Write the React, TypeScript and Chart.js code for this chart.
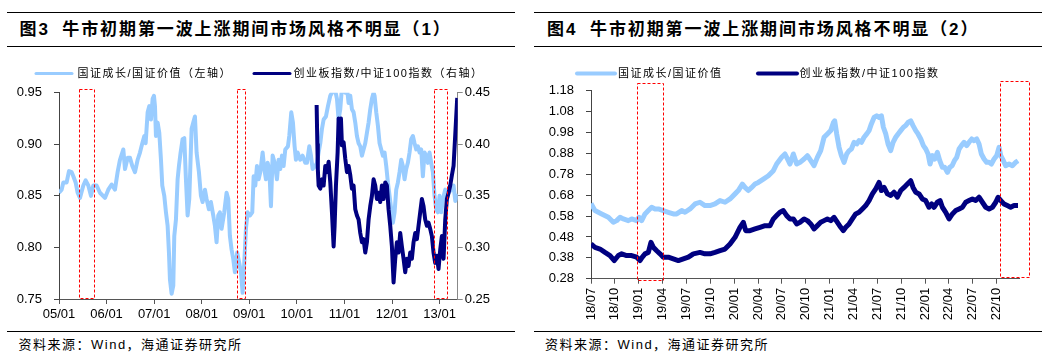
import React, { useEffect, useRef } from 'react';
import { Chart, registerables } from 'chart.js';

Chart.register(...registerables);

// ---------------- Figure 3 (left): x = years since 2005/01 ----------------
const fig3TickPos = [0, 1, 2, 3, 4, 5, 6, 7, 8];
const fig3TickLabels = ['05/01', '06/01', '07/01', '08/01', '09/01', '10/01', '11/01', '12/01', '13/01'];
const fig3LeftTicks = [0.75, 0.8, 0.85, 0.9, 0.95];
const fig3RightTicks = [0.25, 0.3, 0.35, 0.4, 0.45];

// 国证成长/国证价值 (left axis)
const fig3GrowthT = [
  0, 0.056, 0.091, 0.161, 0.21, 0.266, 0.301, 0.35, 0.392, 0.441, 0.511, 0.56, 0.616, 0.672, 0.721, 0.791, 0.861, 0.966,
  1.036, 1.106, 1.176, 1.232, 1.282, 1.352, 1.387, 1.443, 1.492, 1.541, 1.597, 1.653, 1.702, 1.751, 1.793, 1.821, 1.863,
  1.898, 1.933, 1.968, 1.996, 2.017, 2.038, 2.073, 2.108, 2.143, 2.171, 2.213, 2.248, 2.283, 2.311, 2.332, 2.367, 2.402,
  2.423, 2.458, 2.493, 2.521, 2.556, 2.598, 2.633, 2.668, 2.703, 2.738, 2.787, 2.822, 2.857, 2.892, 2.941, 2.983, 3.018,
  3.067, 3.102, 3.151, 3.193, 3.242, 3.277, 3.312, 3.347, 3.382, 3.417, 3.473, 3.522, 3.557, 3.592, 3.627, 3.662, 3.697,
  3.746, 3.788, 3.824, 3.859, 3.894, 3.929, 3.964, 4.013, 4.062,
  4.091, 4.126, 4.161, 4.196, 4.231, 4.28, 4.315, 4.35, 4.385, 4.42, 4.455, 4.49, 4.532, 4.581, 4.616, 4.651, 4.686, 4.721,
  4.756, 4.812, 4.84, 4.882, 4.917, 4.952, 4.98, 5.015, 5.071, 5.12, 5.176, 5.211, 5.261, 5.296, 5.331, 5.387, 5.422,
  5.457, 5.492, 5.527, 5.562, 5.611, 5.653, 5.702, 5.737, 5.793, 5.842, 5.877, 5.912, 5.947, 5.982, 6.017, 6.052, 6.087,
  6.122, 6.157, 6.192, 6.227, 6.262, 6.297, 6.332, 6.367, 6.402, 6.437, 6.472, 6.507, 6.542, 6.577, 6.612, 6.633, 6.668,
  6.703, 6.738, 6.773, 6.808, 6.843, 6.878, 6.913, 6.948, 6.983, 7.018, 7.053, 7.088, 7.123, 7.158, 7.193, 7.228, 7.263,
  7.298, 7.333, 7.368, 7.403, 7.438, 7.473, 7.508, 7.543, 7.578, 7.613, 7.648, 7.683, 7.718, 7.753, 7.788, 7.823, 7.858,
  7.893, 7.928, 7.963, 7.998, 8.034, 8.069, 8.118, 8.153, 8.188, 8.244, 8.293, 8.33, 8.37,
];
const fig3GrowthV = [
  0.853, 0.856, 0.863, 0.863, 0.874, 0.873, 0.869, 0.863, 0.853, 0.848, 0.86, 0.865, 0.86, 0.85, 0.86, 0.86, 0.853, 0.848,
  0.856, 0.861, 0.856, 0.873, 0.885, 0.895, 0.876, 0.887, 0.887, 0.879, 0.873, 0.885, 0.892, 0.901, 0.908, 0.901, 0.931,
  0.937, 0.924, 0.944, 0.947, 0.937, 0.908, 0.921, 0.911, 0.885, 0.86, 0.85, 0.834, 0.821, 0.795, 0.769, 0.755, 0.763,
  0.811, 0.827, 0.866, 0.879, 0.892, 0.905, 0.906, 0.866, 0.831, 0.847, 0.915, 0.921, 0.927, 0.892, 0.873, 0.85, 0.844,
  0.856, 0.847, 0.837, 0.844, 0.831, 0.821, 0.805, 0.831, 0.834, 0.818, 0.834, 0.853, 0.847, 0.811, 0.798, 0.789, 0.776,
  0.795, 0.785, 0.776, 0.756, 0.785, 0.818, 0.834, 0.831, 0.834,
  0.869, 0.86, 0.879, 0.866, 0.873, 0.892, 0.876, 0.866, 0.882, 0.876, 0.84, 0.889, 0.882, 0.866, 0.885, 0.876, 0.889, 0.879,
  0.895, 0.898, 0.908, 0.931, 0.921, 0.898, 0.885, 0.892, 0.885, 0.889, 0.882, 0.882, 0.898, 0.889, 0.876, 0.879, 0.882,
  0.892, 0.901, 0.915, 0.924, 0.927, 0.937, 0.947, 0.95, 0.955, 0.944, 0.924, 0.934, 0.955, 0.958, 0.95, 0.955, 0.94,
  0.947, 0.934, 0.931, 0.921, 0.908, 0.901, 0.898, 0.889, 0.895, 0.901, 0.911, 0.921, 0.934, 0.944, 0.95, 0.947, 0.931,
  0.918, 0.901, 0.895, 0.889, 0.892, 0.879, 0.863, 0.85, 0.837, 0.824, 0.834, 0.856, 0.863, 0.873, 0.885, 0.879, 0.866,
  0.876, 0.882, 0.892, 0.905, 0.908, 0.901, 0.895, 0.898, 0.892, 0.895, 0.869, 0.892, 0.889, 0.882, 0.892, 0.882, 0.873,
  0.85, 0.837, 0.834, 0.85, 0.834, 0.847, 0.856, 0.847, 0.853, 0.856, 0.86, 0.845, 0.852,
];

// 创业板指数/中证100指数 (right axis)
const fig3ChinextT = [
  5.415, 5.43, 5.44, 5.457, 5.492, 5.527, 5.562, 5.597, 5.632, 5.667, 5.702, 5.737, 5.772, 5.793, 5.821, 5.856, 5.877,
  5.898, 5.926, 5.947, 5.982, 6.017, 6.052, 6.087, 6.122, 6.157, 6.192, 6.227, 6.262, 6.297, 6.332, 6.367, 6.402, 6.437,
  6.472, 6.507, 6.542, 6.577, 6.612, 6.647, 6.682, 6.717, 6.752, 6.787, 6.822, 6.857, 6.892, 6.927, 6.962, 6.997, 7.032,
  7.067, 7.102, 7.137, 7.172, 7.207, 7.242, 7.277, 7.312, 7.347, 7.382, 7.417, 7.452, 7.487, 7.522, 7.557, 7.592, 7.627,
  7.662, 7.697, 7.732, 7.767, 7.802, 7.837, 7.872, 7.907, 7.942, 7.977, 8.013, 8.048, 8.083, 8.118, 8.153, 8.188, 8.223,
  8.258, 8.293, 8.334, 8.37,
];
const fig3ChinextV = [
  0.438, 0.4, 0.376, 0.36, 0.357, 0.366, 0.36, 0.379, 0.373, 0.383, 0.363, 0.334, 0.301, 0.321, 0.36, 0.392, 0.425,
  0.418, 0.425, 0.399, 0.402, 0.386, 0.373, 0.379, 0.37, 0.357, 0.36, 0.337, 0.331, 0.327, 0.314, 0.305, 0.308, 0.295,
  0.305, 0.327, 0.34, 0.35, 0.366, 0.36, 0.347, 0.353, 0.344, 0.36, 0.347, 0.363, 0.36, 0.337, 0.321, 0.301, 0.266,
  0.289, 0.305, 0.295, 0.314, 0.301, 0.289, 0.276, 0.289, 0.282, 0.295, 0.289, 0.305, 0.314, 0.308, 0.321, 0.334, 0.347,
  0.34, 0.327, 0.321, 0.324, 0.318, 0.311, 0.295, 0.285, 0.292, 0.279, 0.298, 0.311, 0.289, 0.327, 0.347, 0.353, 0.36,
  0.37, 0.379, 0.414, 0.445,
];

// highlighted periods (years since 2005/01), box spans the left axis range
const fig3BoxFrom = [0.4265, 3.733, 7.884];
const fig3BoxTo = [0.729, 3.908, 8.145];
const fig3BoxLow = [0.7508, 0.7508, 0.7508];
const fig3BoxHigh = [0.9536, 0.9536, 0.9536];

// ---------------- Figure 4 (right): x = months since 2018/07 ----------------
const fig4TickPos = [0, 3, 6, 9, 12, 15, 18, 21, 24, 27, 30, 33, 36, 39, 42, 45, 48, 51];
const fig4TickLabels = ['18/07', '18/10', '19/01', '19/04', '19/07', '19/10', '20/01', '20/04', '20/07', '20/10',
  '21/01', '21/04', '21/07', '21/10', '22/01', '22/04', '22/07', '22/10'];
const fig4YTicks = [0.28, 0.38, 0.48, 0.58, 0.68, 0.78, 0.88, 0.98, 1.08, 1.18];

const fig4GrowthM = [
  0, 0.5, 1.34, 2.18, 2.81, 3.23, 3.65, 4.07, 4.69, 5.11, 5.74, 6.04, 6.37, 6.79, 7.21, 7.63, 8.05, 8.47, 9.09, 9.72,
  10.35, 10.77, 11.4, 11.82, 12.45, 13.08, 13.7, 14.33, 14.96, 15.59, 16.22, 16.85, 17.48, 18.11, 18.52, 19.03, 19.36,
  19.78, 20.2, 20.62, 21.04, 21.67, 22.3, 22.93, 23.34, 23.97, 24.39, 24.81, 25.02, 25.44, 25.86, 26.28,
  26.79, 27.21, 27.63, 28.04, 28.46, 28.88, 29.3, 29.72, 30.14, 30.48, 30.64, 30.89, 31.19, 31.48, 31.82, 32.15, 32.45,
  32.74, 33.07, 33.41, 33.7, 34.0, 34.33, 34.67, 34.96, 35.25, 35.59, 35.92, 36.22, 36.51, 36.76, 37.06, 37.35, 37.68,
  37.98, 38.31, 38.61, 38.94, 39.28, 39.57, 39.86, 40.2, 40.49, 40.83, 41.12, 41.46, 41.79, 42.09, 42.38, 42.63, 42.92,
  43.22, 43.55, 43.85, 44.18, 44.47, 44.81, 45.1, 45.4, 45.69, 45.98, 46.28, 46.57, 46.9, 47.24, 47.53, 47.87, 48.16,
  48.5, 48.79, 49.08, 49.42, 49.75, 50.05, 50.34, 50.68, 51.01, 51.31, 51.52, 51.85, 52.14, 52.56, 52.98, 53.4, 53.69,
];
const fig4GrowthV = [
  0.64, 0.606, 0.59, 0.574, 0.55, 0.558, 0.574, 0.566, 0.558, 0.566, 0.558, 0.574, 0.558, 0.59, 0.606, 0.622, 0.614,
  0.614, 0.606, 0.598, 0.59, 0.59, 0.606, 0.598, 0.614, 0.638, 0.646, 0.63, 0.63, 0.638, 0.654, 0.646, 0.662, 0.686,
  0.702, 0.733, 0.717, 0.702, 0.717, 0.733, 0.741, 0.757, 0.773, 0.797, 0.829, 0.861, 0.877, 0.845, 0.829, 0.877,
  0.829, 0.837,
  0.853, 0.869, 0.845, 0.821, 0.861, 0.893, 0.957, 0.973, 0.989, 1.028, 1.036, 0.973, 0.909, 0.869, 0.837, 0.877, 0.893,
  0.901, 0.933, 0.925, 0.941, 0.933, 0.957, 0.973, 0.989, 1.021, 1.052, 1.06, 1.052, 1.06, 1.005, 0.973, 0.925, 0.893,
  0.933, 0.957, 0.973, 0.989, 1.005, 1.013, 1.028, 1.036, 1.013, 0.989, 0.973, 0.949, 0.917, 0.901, 0.877, 0.829, 0.869,
  0.853, 0.885, 0.845, 0.813, 0.813, 0.789, 0.813, 0.821, 0.845, 0.861, 0.901, 0.917, 0.933, 0.917, 0.933, 0.949, 0.941,
  0.949, 0.925, 0.877, 0.853, 0.837, 0.837, 0.829, 0.853, 0.869, 0.909, 0.869, 0.845, 0.821, 0.829, 0.821, 0.837, 0.845,
];

const fig4ChinextM = [
  0, 0.5, 1.13, 1.76, 2.39, 2.93, 3.44, 3.86, 4.48, 5.11, 5.74, 6.16, 6.45, 6.79, 7.21, 7.54, 7.84, 8.26, 8.68, 9.09,
  9.72, 10.35, 10.98, 11.61, 12.24, 12.87, 13.7, 14.33, 14.96, 15.59, 16.22, 16.85, 17.48, 18.11, 18.73, 19.15, 19.45,
  19.99, 20.62, 21.25, 21.88, 22.51, 22.93, 23.34, 23.76, 24.18, 24.6, 25.02, 25.44, 25.86, 26.28,
  26.79, 27.21, 27.63, 28.04, 28.46, 28.88, 29.3, 29.72, 30.14, 30.56, 30.98, 31.4, 31.73, 32.03, 32.45, 32.86, 33.28,
  33.7, 34.12, 34.54, 34.96, 35.38, 35.8, 36.22, 36.51, 36.85, 37.27, 37.68, 38.1, 38.52, 38.94, 39.36, 39.78, 40.2,
  40.49, 40.83, 41.25, 41.66, 42.08, 42.5, 42.84, 43.13, 43.55, 43.89, 44.18, 44.6, 45.02, 45.44, 45.86, 46.28, 46.7,
  47.11, 47.53, 47.95, 48.37, 48.79, 49.21, 49.63, 50.05, 50.47, 50.89, 51.18, 51.51, 51.93, 52.34, 52.76, 53.19, 53.69,
];
const fig4ChinextV = [
  0.446, 0.43, 0.422, 0.406, 0.391, 0.367, 0.391, 0.399, 0.391, 0.391, 0.383, 0.367, 0.383, 0.399, 0.406, 0.454, 0.43,
  0.414, 0.399, 0.383, 0.383, 0.375, 0.367, 0.375, 0.383, 0.399, 0.406, 0.399, 0.399, 0.406, 0.414, 0.422, 0.446, 0.478,
  0.526, 0.55, 0.51, 0.51, 0.518, 0.526, 0.534, 0.534, 0.566, 0.582, 0.598, 0.606, 0.582, 0.566, 0.566, 0.542, 0.55,
  0.566, 0.558, 0.542, 0.518, 0.534, 0.55, 0.558, 0.566, 0.558, 0.574, 0.55, 0.526, 0.51, 0.526, 0.542, 0.566, 0.59,
  0.598, 0.614, 0.63, 0.654, 0.686, 0.71, 0.741, 0.702, 0.717, 0.686, 0.678, 0.694, 0.67, 0.702, 0.717, 0.733, 0.749,
  0.717, 0.694, 0.686, 0.662, 0.654, 0.622, 0.638, 0.622, 0.646, 0.654, 0.622, 0.598, 0.566, 0.59, 0.606, 0.614, 0.622,
  0.646, 0.654, 0.662, 0.654, 0.67, 0.646, 0.622, 0.614, 0.622, 0.646, 0.67, 0.654, 0.638, 0.63, 0.622, 0.63, 0.63,
];

const fig4BoxFrom = [5.82, 51.43];
const fig4BoxTo = [9.02, 55.11];
const fig4BoxLow = [0.2738, 0.2896];
const fig4BoxHigh = [1.2168, 1.2264];

// ---------------- styling ----------------
const LIGHT = '#99CCFF';
const DARK = '#000080';
const TICK_FONT = { family: "'Liberation Sans', Arial, sans-serif", size: 13 };
const CJK = "'Liberation Sans', 'Noto Sans CJK SC', sans-serif";

const pts = (xs: number[], ys: number[]) => xs.map((x, i) => ({ x, y: ys[i] }));

function boxesPlugin(xId: string, yId: string, from: number[], to: number[], low: number[], high: number[]) {
  return {
    id: 'dashBoxes',
    afterDatasetsDraw(chart: any) {
      const xs = chart.scales[xId];
      const ys = chart.scales[yId];
      const ctx = chart.ctx;
      ctx.save();
      ctx.strokeStyle = '#FF0000';
      ctx.lineWidth = 1;
      ctx.setLineDash([3, 2]);
      for (let i = 0; i < from.length; i++) {
        const x1 = Math.round(xs.getPixelForValue(from[i])) + 0.5;
        const x2 = Math.round(xs.getPixelForValue(to[i])) + 0.5;
        const y1 = Math.round(ys.getPixelForValue(high[i])) + 0.5;
        const y2 = Math.round(ys.getPixelForValue(low[i])) + 0.5;
        ctx.strokeRect(x1, y1, x2 - x1, y2 - y1);
      }
      ctx.restore();
    },
  };
}

function legendPlugin(items: { x0: number; x1: number; tx: number }[], y: number, lw: number) {
  return {
    id: 'fixedLegend',
    afterDraw(chart: any) {
      const ctx = chart.ctx;
      ctx.save();
      chart.data.datasets.forEach((ds: any, i: number) => {
        const it = items[i];
        ctx.strokeStyle = ds.borderColor;
        ctx.lineWidth = lw;
        ctx.lineCap = 'round';
        ctx.beginPath();
        ctx.moveTo(it.x0, y);
        ctx.lineTo(it.x1, y);
        ctx.stroke();
        ctx.fillStyle = '#000';
        ctx.font = `11px ${CJK}`;
        (ctx as any).letterSpacing = '1.5px';
        ctx.textAlign = 'left';
        ctx.textBaseline = 'middle';
        ctx.fillText(ds.label, it.tx, y + 0.5);
      });
      (ctx as any).letterSpacing = '0px';
      ctx.restore();
    },
  };
}

const axisGrid = (color: string) => ({
  display: true,
  drawOnChartArea: false,
  drawTicks: true,
  tickLength: 5,
  color,
  lineWidth: 1,
});

function fig3Config(): any {
  return {
    type: 'line',
    data: {
      datasets: [
        {
          label: '国证成长/国证价值（左轴）',
          data: pts(fig3GrowthT, fig3GrowthV),
          borderColor: LIGHT,
          borderWidth: 4,
          pointRadius: 0,
          tension: 0,
          borderJoinStyle: 'round',
          yAxisID: 'y',
          order: 1,
        },
        {
          label: '创业板指数/中证100指数（右轴）',
          data: pts(fig3ChinextT, fig3ChinextV),
          borderColor: DARK,
          borderWidth: 4,
          pointRadius: 0,
          tension: 0,
          borderJoinStyle: 'round',
          yAxisID: 'y1',
          order: 0,
        },
      ],
    },
    options: {
      responsive: false,
      animation: false,
      devicePixelRatio: 1,
      layout: { padding: { top: 32.7, left: 0, right: 0, bottom: 0 } },
      plugins: { legend: { display: false }, tooltip: { enabled: false } },
      scales: {
        x: {
          type: 'linear',
          min: 0,
          max: 8.38,
          afterBuildTicks: (s: any) => { s.ticks = fig3TickPos.map((v) => ({ value: v })); },
          afterFit: (s: any) => { s.height = 26; },
          ticks: {
            autoSkip: false, maxRotation: 0, minRotation: 0, padding: 3, font: TICK_FONT, color: '#000',
            callback: (v: any) => { const i = fig3TickPos.indexOf(Number(v)); return i >= 0 ? fig3TickLabels[i] : ''; },
          },
          grid: axisGrid('#555'),
          border: { display: true, color: '#555', width: 1 },
        },
        y: {
          type: 'linear',
          position: 'left',
          min: 0.75,
          max: 0.95,
          afterBuildTicks: (s: any) => { s.ticks = fig3LeftTicks.map((v) => ({ value: v })); },
          afterFit: (s: any) => { s.width = 59; },
          ticks: { padding: 12, font: TICK_FONT, color: '#000', callback: (v: any) => Number(v).toFixed(2) },
          grid: axisGrid('#444'),
          border: { display: true, color: '#444', width: 1 },
        },
        y1: {
          type: 'linear',
          position: 'right',
          min: 0.25,
          max: 0.45,
          afterBuildTicks: (s: any) => { s.ticks = fig3RightTicks.map((v) => ({ value: v })); },
          afterFit: (s: any) => { s.width = 62.3; },
          ticks: { padding: 2, font: TICK_FONT, color: '#000', callback: (v: any) => Number(v).toFixed(2) },
          grid: axisGrid('#888'),
          border: { display: true, color: '#888', width: 1 },
        },
      },
    },
    plugins: [
      boxesPlugin('x', 'y', fig3BoxFrom, fig3BoxTo, fig3BoxLow, fig3BoxHigh),
      legendPlugin([{ x0: 36, x1: 72, tx: 77.5 }, { x0: 254, x1: 290, tx: 293.5 }], 13.5, 3),
    ],
  };
}

function fig4Config(): any {
  return {
    type: 'line',
    data: {
      datasets: [
        {
          label: '国证成长/国证价值',
          data: pts(fig4GrowthM, fig4GrowthV),
          borderColor: LIGHT,
          borderWidth: 5,
          pointRadius: 0,
          tension: 0,
          borderJoinStyle: 'round',
          order: 1,
        },
        {
          label: '创业板指数/中证100指数',
          data: pts(fig4ChinextM, fig4ChinextV),
          borderColor: DARK,
          borderWidth: 5,
          pointRadius: 0,
          tension: 0,
          borderJoinStyle: 'round',
          order: 0,
        },
      ],
    },
    options: {
      responsive: false,
      animation: false,
      devicePixelRatio: 1,
      layout: { padding: { top: 30.7, left: 0, right: 30.7, bottom: 0 } },
      plugins: { legend: { display: false }, tooltip: { enabled: false } },
      scales: {
        x: {
          type: 'linear',
          min: 0,
          max: 53.85,
          afterBuildTicks: (s: any) => { s.ticks = fig4TickPos.map((v) => ({ value: v })); },
          afterFit: (s: any) => { s.height = 46.3; },
          ticks: {
            autoSkip: false, maxRotation: 90, minRotation: 90, padding: 4, font: TICK_FONT, color: '#000',
            callback: (v: any) => { const i = fig4TickPos.indexOf(Number(v)); return i >= 0 ? fig4TickLabels[i] : ''; },
          },
          grid: axisGrid('#555'),
          border: { display: true, color: '#555', width: 1 },
        },
        y: {
          type: 'linear',
          position: 'left',
          min: 0.28,
          max: 1.18,
          afterBuildTicks: (s: any) => { s.ticks = fig4YTicks.map((v) => ({ value: v })); },
          afterFit: (s: any) => { s.width = 61; },
          ticks: { padding: 12, font: TICK_FONT, color: '#000', callback: (v: any) => Number(v).toFixed(2) },
          grid: axisGrid('#444'),
          border: { display: true, color: '#444', width: 1 },
        },
      },
    },
    plugins: [
      boxesPlugin('x', 'y', fig4BoxFrom, fig4BoxTo, fig4BoxLow, fig4BoxHigh),
      legendPlugin([{ x0: 47, x1: 85, tx: 88 }, { x0: 228, x1: 267, tx: 269.5 }], 13.5, 4),
    ],
  };
}

function ChartCanvas({ left, top, width, height, make }: { left: number; top: number; width: number; height: number; make: () => any }) {
  const ref = useRef<HTMLCanvasElement | null>(null);
  useEffect(() => {
    const chart = new Chart(ref.current as HTMLCanvasElement, make());
    return () => chart.destroy();
  }, []);
  return (
    <canvas
      ref={ref}
      width={width}
      height={height}
      style={{ position: 'absolute', left, top, width, height, display: 'block' }}
    />
  );
}

const rule = (left: number, top: number, width: number) => (
  <div style={{ position: 'absolute', left, top, width, height: 1, background: '#000' }} />
);

const titleStyle = (left: number): React.CSSProperties => ({
  position: 'absolute',
  left,
  top: 20,
  fontFamily: CJK,
  fontWeight: 'bold',
  fontSize: 17,
  lineHeight: '19px',
  letterSpacing: '1.9px',
  whiteSpace: 'nowrap',
  color: '#000',
});

const sourceStyle = (left: number): React.CSSProperties => ({
  position: 'absolute',
  left,
  top: 336,
  fontFamily: CJK,
  fontSize: 13,
  lineHeight: '17px',
  letterSpacing: '1.5px',
  whiteSpace: 'nowrap',
  color: '#000',
});

export default function App() {
  return (
    <div style={{ position: 'absolute', left: 0, top: 0, width: 1060, height: 355, background: '#fff', overflow: 'hidden' }}>
      {rule(7, 12, 508)}
      {rule(7, 46, 508)}
      {rule(7, 331, 508)}
      {rule(534, 12, 508)}
      {rule(534, 46, 508)}
      {rule(534, 331, 508)}

      <div style={titleStyle(19.5)}>图3</div>
      <div style={titleStyle(62.3)}>牛市初期第一波上涨期间市场风格不明显（1）</div>
      <div style={titleStyle(547)}>图4</div>
      <div style={titleStyle(590)}>牛市初期第一波上涨期间市场风格不明显（2）</div>

      <ChartCanvas left={0} top={60} width={520} height={265} make={fig3Config} />
      <ChartCanvas left={530} top={60} width={520} height={265} make={fig4Config} />

      <div style={sourceStyle(18.5)}>资料来源：Wind，海通证券研究所</div>
      <div style={sourceStyle(545)}>资料来源：Wind，海通证券研究所</div>
    </div>
  );
}
